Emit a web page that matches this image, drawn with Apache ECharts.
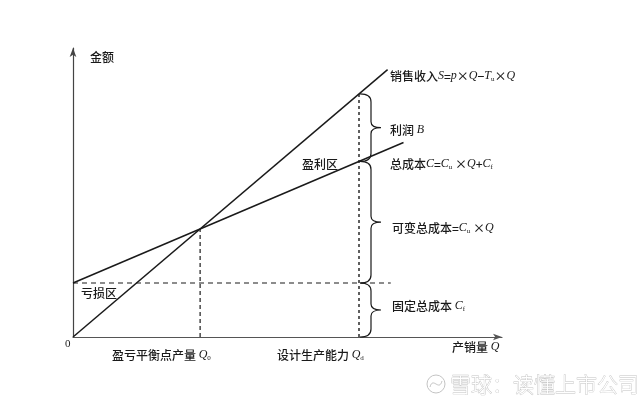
<!DOCTYPE html>
<html>
<head>
<meta charset="utf-8">
<script src="https://cdn.jsdelivr.net/npm/echarts@6/dist/echarts.min.js"></script>
<style>
    html, body { margin: 0; padding: 0; background: #fff; }
    #chart { width: 640px; height: 405px; }
</style>
</head>
<body>
<div id="chart"></div>
<script>
// 盈亏平衡分析图 (单位为示意值)
const salesLine = [[0, 0], [99, 99]];          // 销售收入
const totalCostLine = [[0, 20], [104, 72]];    // 总成本
const fixedCostLine = [[0, 20], [100, 20]];    // 固定总成本 (虚线)
const breakEvenDrop = [[40, 0], [40, 40]];     // 盈亏平衡点产量 Q0
const designDrop = [[90, 0], [90, 90]];        // 设计生产能力 Qd
// [Q, 下沿, 上沿] 大括号
const braceSpans = [[90, 65, 90], [90, 20, 65], [90, 0, 20]];

const cnFont = '"Noto Sans CJK SC", sans-serif';
const mathFont = '"Liberation Serif", "DejaVu Serif", serif';
const ink = '#1a1a1a';

const chart = echarts.init(document.getElementById('chart'));

function lineSeries(data, type, width) {
    return {
        type: 'line',
        data: data,
        symbol: 'none',
        silent: true,
        lineStyle: {
            color: ink,
            width: width,
            type: type,
        },
    };
}

function renderBrace(params, api) {
    const x = api.coord([api.value(0), 0])[0] + 1;
    const yTop = api.coord([0, api.value(2)])[1];
    const yBot = api.coord([0, api.value(1)])[1];
    const yMid = (yTop + yBot) / 2;
    const xb = x + 11;
    const r = 8;
    const path =
        'M' + x + ',' + yTop +
        ' Q' + xb + ',' + yTop + ' ' + xb + ',' + (yTop + r) +
        ' L' + xb + ',' + (yMid - 6) +
        ' Q' + xb + ',' + yMid + ' ' + (xb + 10) + ',' + yMid +
        ' Q' + xb + ',' + yMid + ' ' + xb + ',' + (yMid + 6) +
        ' L' + xb + ',' + (yBot - r) +
        ' Q' + xb + ',' + yBot + ' ' + x + ',' + yBot;
    return {
        type: 'path',
        shape: { pathData: path },
        style: { stroke: ink, fill: 'none', lineWidth: 1.2 },
    };
}

function label(x, y, text, rich) {
    return {
        type: 'text',
        x: x,
        y: y,
        silent: true,
        style: {
            text: text,
            fill: ink,
            font: '500 12px ' + cnFont,
            verticalAlign: 'middle',
            rich: rich || {},
        },
    };
}

const formulaRich = {
    c: { fontFamily: cnFont, fontWeight: 500, fontSize: 12, color: ink, lineHeight: 14 },
    i: { fontFamily: mathFont, fontStyle: 'italic', fontSize: 12, color: ink, lineHeight: 14 },
    s: { fontFamily: mathFont, fontSize: 7, color: ink, lineHeight: 14, verticalAlign: 'bottom' },
};

let options = {
    backgroundColor: '#fff',
    animation: false,
    grid: {
        left: 73,
        top: 48,
        width: 429,
        height: 289,
    },
    xAxis: {
        type: 'value',
        min: 0,
        max: 135,
        axisLine: {
            show: true,
            symbol: ['none', 'arrow'],
            symbolSize: [5, 9],
            lineStyle: { color: '#555', width: 1.2 },
        },
        axisTick: { show: false },
        axisLabel: { show: false },
        splitLine: { show: false },
    },
    yAxis: {
        type: 'value',
        min: 0,
        max: 107,
        axisLine: {
            show: true,
            symbol: ['none', 'arrow'],
            symbolSize: [5, 9],
            lineStyle: { color: '#444', width: 1.2 },
        },
        axisTick: { show: false },
        axisLabel: { show: false },
        splitLine: { show: false },
    },
    series: [
        lineSeries(salesLine, 'solid', 1.5),
        lineSeries(totalCostLine, 'solid', 1.5),
        lineSeries(fixedCostLine, [5, 4], 1.2),
        lineSeries(breakEvenDrop, [4, 3], 1.2),
        lineSeries(designDrop, [3, 3], 1.4),
        {
            type: 'custom',
            silent: true,
            renderItem: renderBrace,
            encode: { x: 0, y: [1, 2] },
            data: braceSpans,
        },
    ],
    graphic: [
        label(90, 57, '金额'),
        label(390, 76, '{c|销售收入}{i|S}{c|=}{i|p}{c|×}{i|Q}{c|−}{i|T}{s|u}{c|×}{i|Q}', formulaRich),
        label(390, 130, '{c|利润 }{i|B}', formulaRich),
        label(302, 164, '盈利区'),
        label(390, 164, '{c|总成本}{i|C}{c|=}{i|C}{s|u}{c| ×}{i|Q}{c|+}{i|C}{s|f}', formulaRich),
        label(392, 228, '{c|可变总成本=}{i|C}{s|u}{c| ×}{i|Q}', formulaRich),
        label(392, 306, '{c|固定总成本 }{i|C}{s|f}', formulaRich),
        label(81, 293, '亏损区'),
        {
            type: 'text',
            x: 65,
            y: 344,
            silent: true,
            style: { text: '0', fill: ink, font: '11px ' + mathFont, verticalAlign: 'middle' },
        },
        label(112, 355, '{c|盈亏平衡点产量 }{i|Q}{s|0}', formulaRich),
        label(277, 355, '{c|设计生产能力 }{i|Q}{s|d}', formulaRich),
        label(452, 347, '{c|产销量 }{i|Q}', formulaRich),
        // 水印
        {
            type: 'circle',
            silent: true,
            shape: { cx: 436, cy: 384, r: 9 },
            style: { fill: 'none', stroke: '#c4c4c4', lineWidth: 1 },
        },
        {
            type: 'bezierCurve',
            silent: true,
            shape: { x1: 430, y1: 387, cpx1: 433, cpy1: 376, cpx2: 439, cpy2: 392, x2: 442, y2: 381 },
            style: { fill: 'none', stroke: '#c4c4c4', lineWidth: 1 },
        },
        {
            type: 'text',
            x: 450,
            y: 384,
            silent: true,
            style: {
                text: '雪球：读懂上市公司',
                fill: '#fff',
                stroke: '#c2c2c2',
                lineWidth: 0.8,
                font: '300 21px ' + cnFont,
                verticalAlign: 'middle',
            },
        },
    ],
};

chart.setOption(options);
</script>
</body>
</html>
